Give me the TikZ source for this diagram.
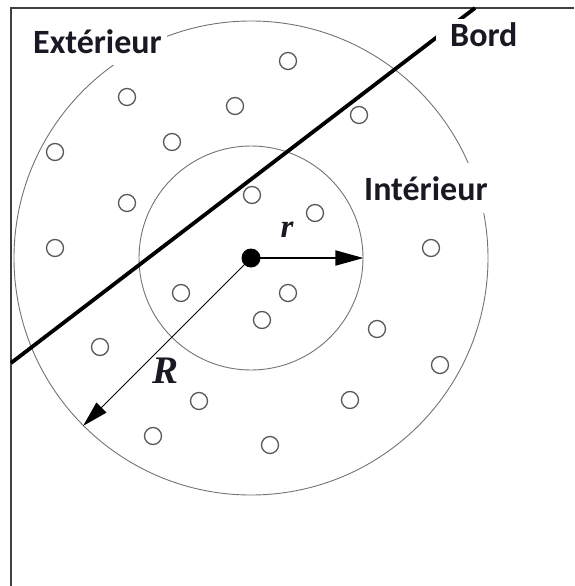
\documentclass[tikz,border=0pt]{standalone}
\usepackage{fontspec}
\setmainfont{Carlito}
\newfontfamily\serifbi{Liberation Serif}
\usetikzlibrary{arrows.meta}
\definecolor{txt}{RGB}{25,25,35}
\begin{document}
\begin{tikzpicture}[x=1pt,y=-1pt,
  lbl/.style={fill=white, text=txt, font=\bfseries\fontsize{34}{40}\selectfont, inner sep=0pt},
  dotc/.style={circle, draw=black!65, line width=1.3pt, minimum size=17pt, inner sep=0pt},
  ring/.style={circle, draw=black!55, line width=0.9pt, inner sep=0pt},
  sym/.style={text=txt, font=\serifbi\bfseries\itshape\fontsize{39}{44}\selectfont, inner sep=0pt}
]
\useasboundingbox (0,0) rectangle (574,586);
\draw[black!75, line width=2pt] (11,586) -- (11,8) -- (574,8);
\node[ring, minimum size=474pt] (outer) at (251,258) {};
\node[ring, minimum size=224pt] (inner) at (251,258) {};
\foreach \p [count=\i] in {(288,61),(127,97),(235,106),(359,115),(172,142),(55,152),(127,203),(252,195),(315,213),(55,248),(431,248),(181,293),(288,293),(262,320),(377,329),(100,347),(440,365),(199,401),(350,400),(153,436),(270,445)}
  \node[dotc] (d\i) at \p {};
\coordinate (b1) at (11,363);
\coordinate (b2) at (475,8);
\draw[line width=3.8pt] (b1) -- (b2);
\node[circle, fill=black, minimum size=19pt, inner sep=0pt] (c) at (251,258) {};
\draw[line width=1.8pt, -{Triangle[length=28pt,width=15pt]}] (c.center) -- (inner.east);
\draw[line width=1pt, -{Triangle[length=26pt,width=14pt]}] (c.center) -- (outer.south west);
\node[lbl, anchor=base west, inner xsep=5pt, inner ysep=12pt] (ext) at (28,53) {Extérieur};
\node[lbl, anchor=base west, inner xsep=14pt, inner ysep=4pt] (bord) at (436,47) {Bord};
\node[lbl, anchor=base west, inner xsep=5pt, inner ysep=13pt] (int) at (359,200) {Intérieur};
\node[sym] (Rl) at (166,371) {R};
\node[sym, font=\serifbi\bfseries\itshape\fontsize{33}{38}\selectfont] (rl) at (287,230) {r};
\end{tikzpicture}
\end{document}
